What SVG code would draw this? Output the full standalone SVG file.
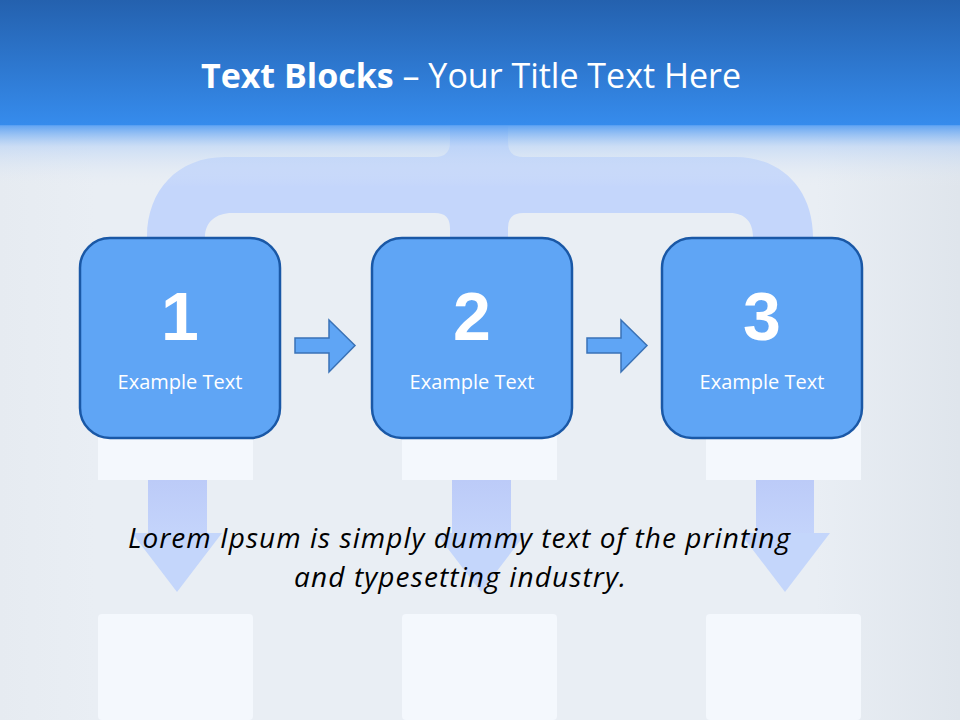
<svg xmlns="http://www.w3.org/2000/svg" width="960" height="720" viewBox="0 0 960 720">
<defs>
<linearGradient id="hdr" x1="0" y1="0" x2="0" y2="1">
<stop offset="0" stop-color="#2461ae"/>
<stop offset="1" stop-color="#368ced"/>
</linearGradient>
<linearGradient id="fade" x1="0" y1="0" x2="0" y2="1">
<stop offset="0" stop-color="#5aa0f2" stop-opacity="0.95"/>
<stop offset="0.35" stop-color="#b9d3f6" stop-opacity="0.6"/>
<stop offset="1" stop-color="#e8edf3" stop-opacity="0"/>
</linearGradient>
<linearGradient id="bg" x1="0" y1="0" x2="1" y2="0">
<stop offset="0" stop-color="#e6ebf1"/>
<stop offset="0.1" stop-color="#e9eef4"/>
<stop offset="0.85" stop-color="#e9eef4"/>
<stop offset="1" stop-color="#dfe5ec"/>
</linearGradient>
<linearGradient id="shaft" x1="0" y1="0" x2="0" y2="1">
<stop offset="0" stop-color="#bccbf8"/>
<stop offset="1" stop-color="#c4d4fb"/>
</linearGradient>
<style>
.box{fill:#5fa5f5;stroke:#1a58a6;stroke-width:2.5}
.num{font-family:"Liberation Sans",Arial,sans-serif;font-weight:bold;font-size:68px;fill:#ffffff;text-anchor:middle}
.lbl{font-family:"Open Sans","Noto Sans",sans-serif;font-size:20px;fill:#ffffff;text-anchor:middle}
.sarrow{fill:#5fa5f5;stroke:#3a72b6;stroke-width:1.5}
.panel{fill:#f4f8fd}
.head{fill:#c4d6fb}
.tree{fill:#c4d6fb}
</style>
</defs>
<rect x="0" y="0" width="960" height="720" fill="url(#bg)"/>
<path class="tree" d="M147,237 C147,190 178,157 225,157 L435,157 Q450,157 450,142 L450,110 L508,110 L508,142 Q508,157 523,157 L735,157 C782,157 813,190 813,237 L753,237 C753,222 745,213 730,213 L523,213 Q508,213 508,228 L508,240 L450,240 L450,228 Q450,213 435,213 L232,213 C216,213 205,222 205,237 Z"/>
<rect x="0" y="0" width="960" height="126" fill="url(#hdr)"/>
<rect x="0" y="125" width="960" height="62" fill="url(#fade)"/>
<text x="471" y="88" font-family="'Open Sans','Noto Sans',sans-serif" font-size="34" fill="#ffffff" text-anchor="middle"><tspan font-weight="bold">Text Blocks</tspan> – Your Title Text Here</text>
<g id="col1">
<rect class="panel" x="98" y="420" width="155" height="60"/>
<rect class="panel" x="98" y="614" width="155" height="106" rx="4"/>
<rect x="148" y="480" width="59" height="54" fill="url(#shaft)"/>
<polygon class="head" points="132,533 222,533 177,592"/>
</g>
<g id="col2">
<rect class="panel" x="402" y="420" width="155" height="60"/>
<rect class="panel" x="402" y="614" width="155" height="106" rx="4"/>
<rect x="452" y="480" width="59" height="54" fill="url(#shaft)"/>
<polygon class="head" points="436,533 526,533 481,592"/>
</g>
<g id="col3">
<rect class="panel" x="706" y="420" width="155" height="60"/>
<rect class="panel" x="706" y="614" width="155" height="106" rx="4"/>
<rect x="756" y="480" width="58" height="54" fill="url(#shaft)"/>
<polygon class="head" points="740,533 830,533 785,592"/>
</g>
<g id="node1">
<rect class="box" x="80" y="238" width="200" height="200" rx="30"/>
<text class="num" x="180" y="340">1</text>
<text class="lbl" x="180" y="389">Example Text</text>
</g>
<g id="node2">
<rect class="box" x="372" y="238" width="200" height="200" rx="30"/>
<text class="num" x="472" y="340">2</text>
<text class="lbl" x="472" y="389">Example Text</text>
</g>
<g id="node3">
<rect class="box" x="662" y="238" width="200" height="200" rx="30"/>
<text class="num" x="762" y="340">3</text>
<text class="lbl" x="762" y="389">Example Text</text>
</g>
<g id="connectors">
<polygon class="sarrow" points="295,338 329,338 329,320 355,345.5 329,372 329,353 295,353"/>
<polygon class="sarrow" points="587,338 621,338 621,320 647,345.5 621,372 621,353 587,353"/>
</g>
<g id="caption" font-family="'Open Sans','Noto Sans',sans-serif" font-style="italic" font-size="28" fill="#000000" text-anchor="middle">
<text x="459" y="548" textLength="662" lengthAdjust="spacing">Lorem Ipsum is simply dummy text of the printing</text>
<text x="460" y="587" textLength="332" lengthAdjust="spacing">and typesetting industry.</text>
</g>
</svg>
